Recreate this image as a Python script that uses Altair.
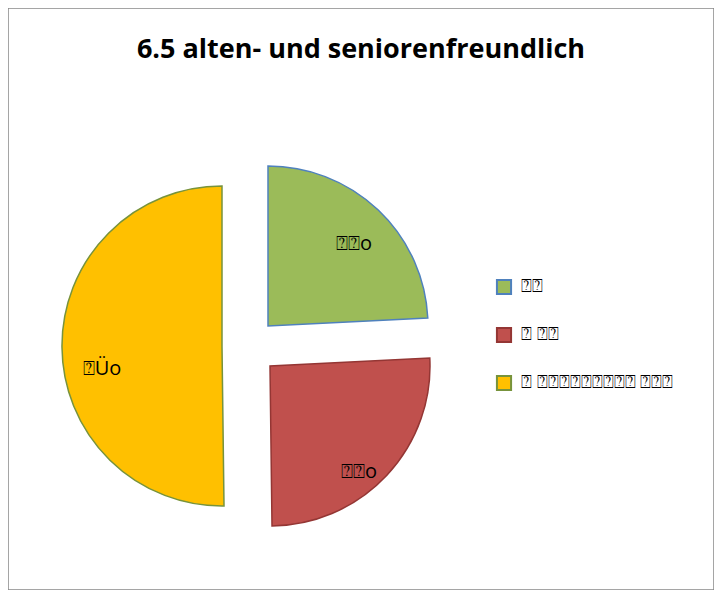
import altair as alt
import pandas as pd

categories = ["⍰⍰", "⍰ ⍰⍰", "⍰ ⍰⍰⍰⍰⍰⍰⍰⍰⍰ ⍰⍰⍰"]
values = [24.2, 25.6, 50.2]
slice_labels = ["⍰⍰o", "⍰⍰o", "⍰Üo"]
fills = ["#9BBB59", "#C0504D", "#FFC000"]
strokes = ["#4F81BD", "#943634", "#77933C"]
explode = [(22, -20), (24, 20), (-24, 0)]
label_shift = [(0, 9), (-2, 20), (5, 22)]

df = pd.DataFrame({"cat": categories, "value": values, "label": slice_labels,
                   "order": [0, 1, 2]})

base = alt.Chart(df).transform_window(
    cum="sum(value)", sort=[alt.SortField("order")]
).transform_calculate(
    start="datum.cum - datum.value", mid="datum.cum - datum.value/2"
)

theta_scale = alt.Scale(domain=[0, 100], range=[0, 6.283185307])
CX, CY = 238, 338

layers = []
for i, cat in enumerate(categories):
    dx, dy = explode[i]
    lx, ly = label_shift[i]
    sub = base.transform_filter(alt.datum.cat == cat)
    arc = sub.mark_arc(outerRadius=160, strokeWidth=1.5, xOffset=dx, yOffset=dy).encode(
        theta=alt.Theta("start:Q", scale=theta_scale),
        theta2="cum:Q",
        x=alt.value(CX), y=alt.value(CY),
        fill=alt.Fill("cat:N", scale=alt.Scale(domain=categories, range=fills),
                      legend=alt.Legend(title=None, orient="none", legendX=487, legendY=270,
                                        labelFontSize=18, symbolSize=200, symbolType="square",
                                        rowPadding=24, labelFont="Open Sans",
                                        symbolStrokeWidth=2, labelOffset=8)),
        stroke=alt.Stroke("cat:N", scale=alt.Scale(domain=categories, range=strokes)),
    )
    txt = sub.mark_text(radius=125, fontSize=20, font="Open Sans", color="black",
                        xOffset=dx + lx, yOffset=dy + ly).encode(
        theta=alt.Theta("mid:Q", scale=theta_scale),
        x=alt.value(CX), y=alt.value(CY),
        text="label:N",
    )
    layers += [arc, txt]

title = alt.Chart(pd.DataFrame({"t": ["6.5 alten- und seniorenfreundlich"]})).mark_text(
    fontSize=27, fontWeight="bold", font="Open Sans", color="black"
).encode(x=alt.value(353), y=alt.value(42), text="t:N")

chart = alt.layer(*layers, title).resolve_scale(theta="shared").properties(
    width=706, height=582, padding=0,
    autosize=alt.AutoSizeParams(type="fit", contains="padding"),
).configure_view(stroke="#888888", strokeWidth=1.5)

chart.save("out.html", embed_options={"renderer": "svg", "actions": False})
